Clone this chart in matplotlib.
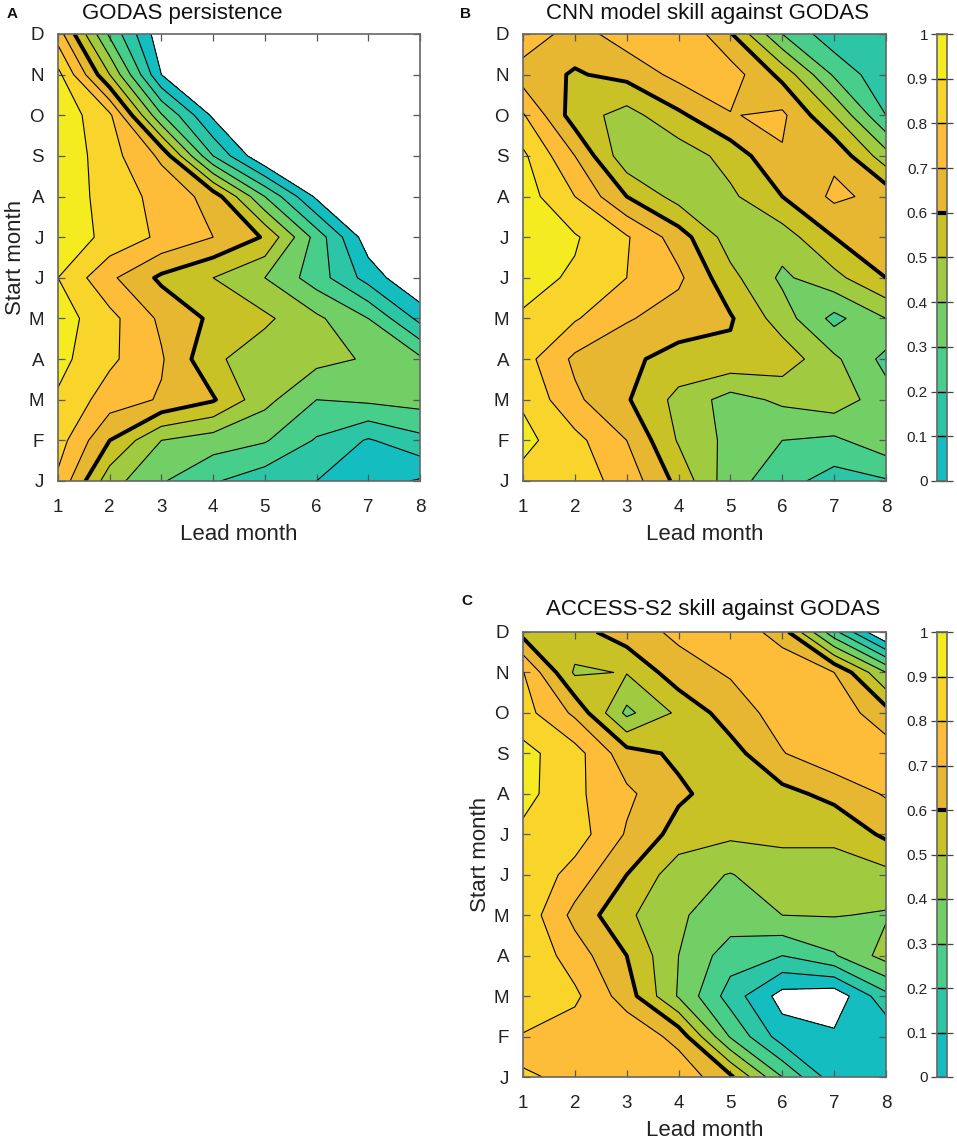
import numpy as np
import matplotlib
matplotlib.use("Agg")
import matplotlib.pyplot as plt
from matplotlib.colors import ListedColormap, BoundaryNorm

plt.rcParams['font.family'] = ['Liberation Sans', 'DejaVu Sans']

lead = [1, 2, 3, 4, 5, 6, 7, 8]
months = ['J', 'F', 'M', 'A', 'M', 'J', 'J', 'A', 'S', 'O', 'N', 'D']
levels = [0, 0.1, 0.2, 0.3, 0.4, 0.5, 0.6, 0.7, 0.8, 0.9, 1]
level_labels = ['0', '0.1', '0.2', '0.3', '0.4', '0.5', '0.6', '0.7', '0.8', '0.9', '1']
band_colors = ['#14BEC0', '#2CC5A6', '#47CE8B', '#71CF66', '#A0CB40',
               '#C9C227', '#E7B731', '#FDBD39', '#F9D52C', '#F4EB20']

# rows run from J (bottom) up to D, columns are lead months 1-8
godas = [
    [.78, .44, .31, .21, .14, .10, .04, -.01],
    [.845, .60, .40, .35, .31, .19, .09, .17],
    [.887, .75, .69, .61, .43, .30, .32, .34],
    [.93, .82, .71, .52, .44, .43, .39, .32],
    [.95, .83, .68, .58, .52, .42, .30, .07],
    [.90, .72, .58, .50, .40, .25, .06, -.11],
    [.97, .87, .78, .70, .59, .26, -.06, -.20],
    [.98, .85, .77, .66, .30, -.02, -.30, -.40],
    [.98, .84, .68, .20, -.10, -.30, -.40, -.50],
    [.97, .82, .31, -.02, -.30, -.40, -.50, -.50],
    [.93, .50, .00, -.20, -.40, -.50, -.50, -.50],
    [.75, .28, -.07, -.30, -.40, -.50, -.50, -.50],
]

cnn = [
    [.865, .85, .76, .57, .34, .24, .155, .19],
    [.93, .83, .70, .49, .37, .30, .28, .367],
    [.886, .72, .61, .47, .36, .42, .46, .34],
    [.84, .68, .62, .565, .575, .56, .42, .27],
    [.89, .81, .71, .65, .61, .45, .27, .40],
    [.93, .888, .80, .72, .53, .38, .47, .60],
    [.97, .91, .81, .65, .45, .45, .60, .66],
    [.95, .80, .60, .46, .48, .60, .72, .67],
    [.92, .70, .43, .44, .54, .69, .68, .44],
    [.81, .55, .46, .58, .695, .72, .50, .20],
    [.65, .59, .63, .73, .75, .57, .285, .12],
    [.77, .653, .753, .80, .61, .30, .13, .12],
]

access = [
    [.803, .795, .78, .77, .62, .30, .04, .02],
    [.79, .745, .78, .665, .29, .05, .018, .02],
    [.90, .82, .65, .39, .155, -.04, -.07, .17],
    [.89, .75, .60, .40, .247, .20, .29, .44],
    [.87, .67, .52, .41, .36, .40, .405, .39],
    [.885, .76, .60, .44, .395, .46, .46, .47],
    [.877, .85, .69, .56, .52, .52, .52, .62],
    [.935, .822, .72, .618, .55, .57, .63, .71],
    [.93, .84, .64, .58, .56, .695, .77, .75],
    [.84, .68, .375, .52, .65, .74, .76, .64],
    [.805, .485, .505, .66, .71, .78, .70, .40],
    [.565, .56, .655, .72, .78, .65, .23, -.13],
]

W, H = 957, 1142
cmap = ListedColormap(band_colors)
norm = BoundaryNorm(levels, cmap.N)


def make_axes(left, right, top, bottom):
    return fig.add_axes([left / W, 1 - bottom / H, (right - left) / W, (bottom - top) / H])


def panel(ax, data, title, title_x, title_y, letter, letter_x, letter_y, ylabel=True):
    z = np.array(data)
    ax.contourf(lead, range(12), z, levels=levels, cmap=cmap, norm=norm)
    ax.contour(lead, range(12), z, levels=levels[:-1], colors='k', linewidths=0.8)
    ax.contour(lead, range(12), z, levels=[0.6], colors='k', linewidths=2.8)
    ax.set_xlim(1, 8)
    ax.set_ylim(0, 11)
    ax.set_xticks(lead)
    ax.set_yticks(range(12))
    ax.set_yticklabels(months)
    ax.tick_params(direction='in', top=True, right=True, length=5, width=0.9,
                   color='#555555', labelsize=13.5, labelcolor='#222222')
    ax.tick_params(axis='x', pad=13)
    ax.tick_params(axis='y', pad=10)
    for s in ax.spines.values():
        s.set_color('#666666')
        s.set_linewidth(1.2)
    ax.set_xlabel('Lead month', fontsize=16, color='#222222', labelpad=6)
    if ylabel:
        ax.set_ylabel('Start month', fontsize=16, color='#222222', labelpad=2)
    fig.text(title_x / W, 1 - title_y / H, title, fontsize=16, color='#111111',
             ha='center', va='center')
    fig.text(letter_x / W, 1 - letter_y / H, letter, fontsize=11, fontweight='bold',
             va='center', ha='left', color='#111111')


def colorbar(cax):
    mids = np.array([(a + b) / 2 for a, b in zip(levels[:-1], levels[1:])])
    cax.pcolormesh([0, 1], levels, mids.reshape(-1, 1), cmap=cmap, norm=norm)
    cax.set_xlim(0, 1)
    cax.set_ylim(0, 1)
    cax.set_xticks([])
    cax.set_yticks(levels)
    cax.set_yticklabels(level_labels)
    cax.tick_params(axis='y', left=True, right=True, labelleft=True, labelright=False,
                    direction='inout', length=9, width=0.9, color='#444444',
                    labelsize=11, labelcolor='#222222', pad=2)
    for s in cax.spines.values():
        s.set_color('#666666')
        s.set_linewidth(1.2)
    cax.hlines(levels[1:-1], 0, 1, colors='k', linewidth=0.9)
    cax.hlines([0.6], 0, 1, colors='k', linewidth=3)


fig = plt.figure(figsize=(W / 100, H / 100), dpi=100)

ax_a = make_axes(58, 420, 34, 481)
panel(ax_a, godas, 'GODAS persistence', 182, 13, 'A', 7, 14)

ax_b = make_axes(523, 886, 34, 481)
panel(ax_b, cnn, 'CNN model skill against GODAS', 708, 13, 'B', 460, 14, ylabel=False)
colorbar(make_axes(937, 947, 34, 481))

ax_c = make_axes(523, 886, 632, 1077)
panel(ax_c, access, 'ACCESS-S2 skill against GODAS', 713, 610, 'C', 461, 601)
colorbar(make_axes(937, 947, 632, 1077))

fig.savefig('out.png', dpi=100)
